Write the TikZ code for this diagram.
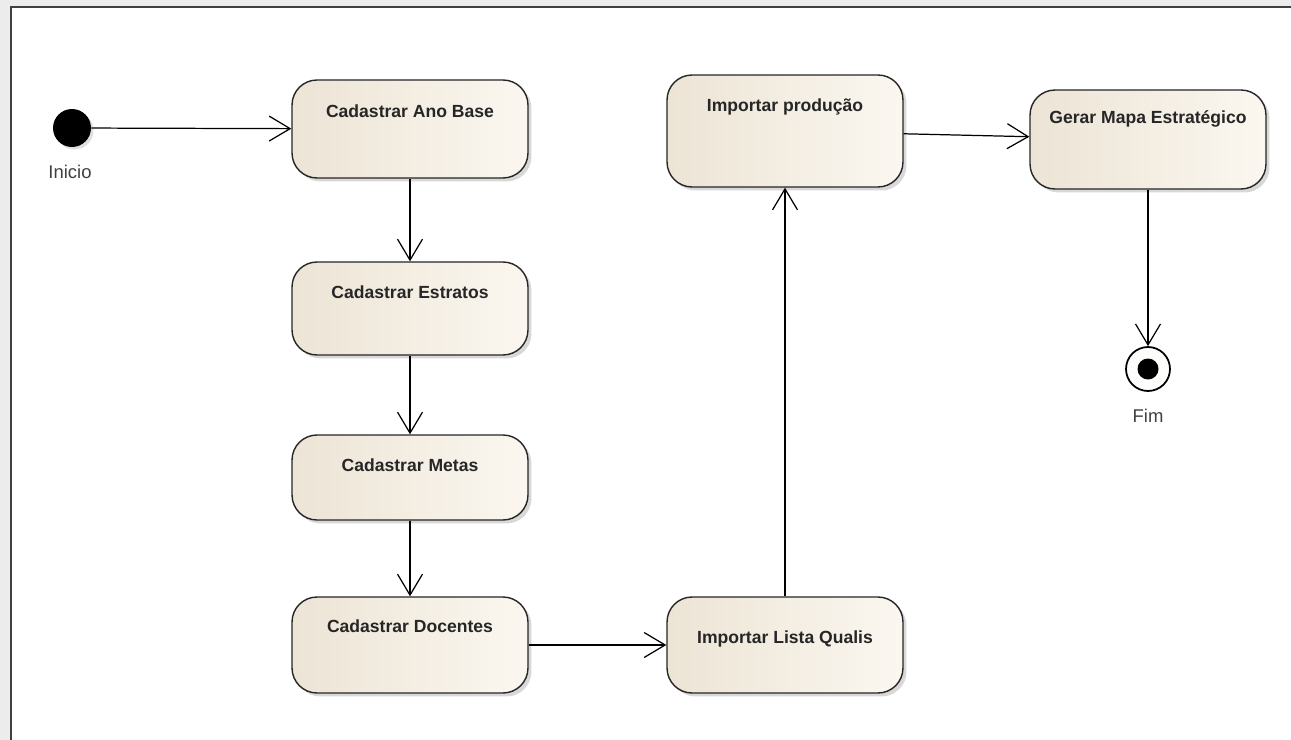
\documentclass[tikz,border=0pt]{standalone}
\usepackage{fontspec}
\setmainfont{Liberation Sans}
\usetikzlibrary{arrows.meta,shadows}

\definecolor{fundo}{RGB}{236,236,236}
\definecolor{bege}{RGB}{236,228,213}
\definecolor{begeclaro}{RGB}{251,247,240}

\tikzset{
  acao/.style={draw=black!85, line width=0.8pt, rounded corners=0.5cm,
    minimum width=4.72cm, left color=bege, right color=begeclaro,
    drop shadow={shadow xshift=0.07cm, shadow yshift=-0.07cm, opacity=0.3}},
  acaotxt/.style={font=\bfseries\fontsize{10}{12}\selectfont, text=black!85},
  fluxo/.style={line width=0.7pt,
    -{Straight Barb[length=0.42cm,width=0.5cm,line width=0.7pt]}},
  rotulo/.style={font=\fontsize{10.5}{12}\selectfont, text=black!75}
}

\begin{document}
\begin{tikzpicture}[x=0.02cm,y=-0.02cm]
\useasboundingbox (0,0) rectangle (1291,740);
% moldura
\fill[fundo] (0,0) rectangle (1291,740);
\fill[white] (11,7) rectangle (1291,740);
\draw[black!75, line width=1.2pt] (11,740) -- (11,7) -- (1291,7);

% estados inicial e final
\node[circle, fill=black, minimum size=0.76cm, inner sep=0pt,
  drop shadow={shadow xshift=0.05cm, shadow yshift=-0.05cm, opacity=0.25}] (inicio) at (72,128) {};
\node[rotulo] (inicioLbl) at (70,172) {Inicio};
\node[circle, draw=black, line width=1pt, fill=white!92!bege, minimum size=0.88cm, inner sep=0pt] (fim) at (1148,369) {};
\node[circle, fill=black, minimum size=0.42cm, inner sep=0pt] (fimPonto) at (fim) {};
\node[rotulo] (fimLbl) at (1148,416) {Fim};

% atividades
\node[acao, minimum height=1.96cm] (ano) at (410,129) {};
\node[acao, minimum height=1.86cm] (estratos) at (410,308.5) {};
\node[acao, minimum height=1.70cm] (metas) at (410,477.5) {};
\node[acao, minimum height=1.92cm] (docentes) at (410,645) {};
\node[acao, minimum height=1.92cm] (qualis) at (785,645) {};
\node[acao, minimum height=2.24cm] (producao) at (785,131) {};
\node[acao, minimum height=1.98cm] (gerar) at (1148,139.5) {};

\node[acaotxt] at ([yshift=-0.64cm]ano.north) {Cadastrar Ano Base};
\node[acaotxt] at ([yshift=-0.62cm]estratos.north) {Cadastrar Estratos};
\node[acaotxt] at ([yshift=-0.62cm]metas.north) {Cadastrar Metas};
\node[acaotxt] at ([yshift=-0.60cm]docentes.north) {Cadastrar Docentes};
\node[acaotxt] at ([yshift=-0.86cm]qualis.north) {Importar Lista Qualis};
\node[acaotxt] at ([yshift=-0.66cm]producao.north) {Importar produção};
\node[acaotxt] at ([yshift=-0.60cm]gerar.north) {Gerar Mapa Estratégico};

% fluxos
\draw[fluxo] (inicio) -- (ano);
\draw[fluxo] (ano) -- (estratos);
\draw[fluxo] (estratos) -- (metas);
\draw[fluxo] (metas) -- (docentes);
\draw[fluxo] (docentes) -- (qualis);
\draw[fluxo] (qualis) -- (producao);
\draw[fluxo] (producao) -- (gerar);
\draw[fluxo] (gerar) -- (fim);
\end{tikzpicture}
\end{document}
